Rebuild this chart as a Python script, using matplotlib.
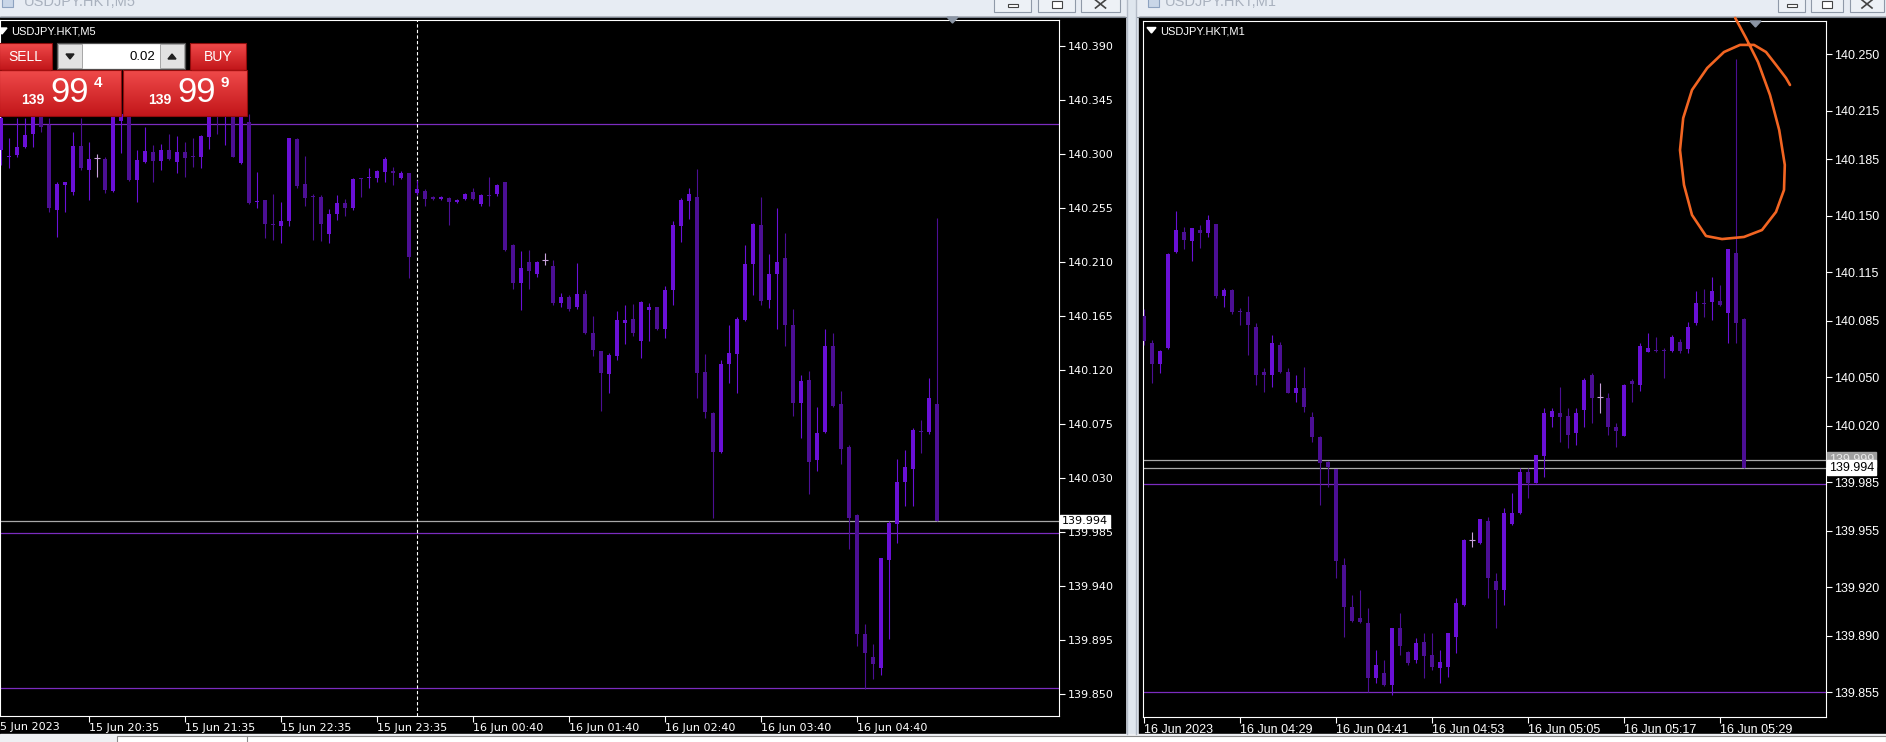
import numpy as np
import matplotlib
matplotlib.use("Agg")
import matplotlib.pyplot as plt
import matplotlib.transforms as mtransforms
from matplotlib.patches import Rectangle, Polygon
from matplotlib.colors import LinearSegmentedColormap

plt.rcParams['font.family'] = ['DejaVu Sans']

# ---------------- data: USDJPY.HKT M5, 15 Jun 19:40 .. 16 Jun 05:30 ----------------
m5_open = [140.3034, 140.2978, 140.2992, 140.3061, 140.3164, 140.3350, 140.3242, 140.2534, 140.2742, 140.2686,
           140.3067, 140.2867, 140.2964, 140.2959, 140.2692, 140.3275, 140.3330, 140.2784, 140.2936, 140.3014,
           140.2942, 140.3031, 140.2936, 140.3020, 140.2978, 140.2978, 140.3145, 140.3400, 140.3380, 140.3420,
           140.2922, 140.3270, 140.2598, 140.2617, 140.2412, 140.2403, 140.2442, 140.3125, 140.2748, 140.2648,
           140.2639, 140.2331, 140.2497, 140.2589, 140.2548, 140.2795, 140.2797, 140.2803, 140.2847, 140.2859,
           140.2797, 140.2839, 140.2672, 140.2695, 140.2645, 140.2625, 140.2636, 140.2603, 140.2625, 140.2686,
           140.2585, 140.2659, 140.2666, 140.2763, 140.2244, 140.1929, 140.2104, 140.2000, 140.2114, 140.2065,
           140.1757, 140.1806, 140.1724, 140.1832, 140.1507, 140.1357, 140.1163, 140.1318, 140.1595, 140.1627,
           140.1442, 140.1702, 140.1724, 140.1546, 140.1864, 140.2397, 140.2611, 140.2643, 140.1182, 140.0838,
           140.0513, 140.1254, 140.1335, 140.1617, 140.2082, 140.2406, 140.1780, 140.2000, 140.2130, 140.1572,
           140.0929, 140.1117, 140.0448, 140.0685, 140.1400, 140.0913, 140.0556, 139.9994, 139.8997, 139.8812,
           139.8721, 139.9614, 139.9916, 140.0263, 140.0377, 140.0688, 140.0685, 140.0913]
m5_high = [140.3450, 140.3131, 140.3303, 140.3303, 140.3450, 140.3450, 140.3300, 140.2764, 140.2770, 140.3181,
           140.3303, 140.3103, 140.2998, 140.2978, 140.3450, 140.3450, 140.3450, 140.3034, 140.3228, 140.3075,
           140.3081, 140.3164, 140.3153, 140.3103, 140.3131, 140.3159, 140.3450, 140.3500, 140.3500, 140.3500,
           140.3480, 140.3331, 140.2847, 140.2620, 140.2664, 140.2598, 140.3135, 140.3131, 140.2984, 140.2670,
           140.2658, 140.2542, 140.2658, 140.2625, 140.2803, 140.2803, 140.2886, 140.2867, 140.2978, 140.2895,
           140.2859, 140.2845, 140.2784, 140.2706, 140.2650, 140.2650, 140.2645, 140.2625, 140.2675, 140.2720,
           140.2670, 140.2806, 140.2754, 140.2766, 140.2250, 140.2189, 140.2202, 140.2110, 140.2179, 140.2114,
           140.1838, 140.1822, 140.2091, 140.1871, 140.1650, 140.1360, 140.1345, 140.1692, 140.1741, 140.1747,
           140.1773, 140.1757, 140.1727, 140.1897, 140.2439, 140.2634, 140.2715, 140.2877, 140.1335, 140.0850,
           140.1280, 140.1572, 140.1643, 140.2244, 140.2429, 140.2643, 140.2163, 140.2552, 140.2341, 140.1708,
           140.1156, 140.1189, 140.0896, 140.1546, 140.1507, 140.1026, 140.0572, 140.0004, 139.9085, 139.8916,
           139.9635, 139.9939, 140.0458, 140.0533, 140.0718, 140.0783, 140.1130, 140.2471]
m5_low = [140.2909, 140.2886, 140.2978, 140.3048, 140.3061, 140.3186, 140.2520, 140.2311, 140.2520, 140.2658,
          140.2867, 140.2617, 140.2811, 140.2672, 140.2680, 140.3006, 140.2775, 140.2603, 140.2922, 140.2764,
          140.2867, 140.2950, 140.2839, 140.2811, 140.2895, 140.2886, 140.3042, 140.3164, 140.3075, 140.2975,
          140.2915, 140.2585, 140.2553, 140.2297, 140.2284, 140.2256, 140.2403, 140.2720, 140.2570, 140.2284,
          140.2275, 140.2256, 140.2450, 140.2486, 140.2534, 140.2645, 140.2720, 140.2764, 140.2764, 140.2742,
          140.2790, 140.1970, 140.2658, 140.2570, 140.2620, 140.2620, 140.2409, 140.2589, 140.2620, 140.2620,
          140.2569, 140.2569, 140.2650, 140.2195, 140.1877, 140.1702, 140.1877, 140.1974, 140.2072, 140.1741,
          140.1724, 140.1692, 140.1708, 140.1497, 140.1318, 140.0857, 140.1010, 140.1286, 140.1416, 140.1487,
          140.1302, 140.1442, 140.1530, 140.1465, 140.1741, 140.2267, 140.2455, 140.0968, 140.0799, 139.9971,
          140.0507, 140.1091, 140.1010, 140.1611, 140.1822, 140.1741, 140.1715, 140.1546, 140.1400, 140.0815,
          140.0637, 140.0166, 140.0361, 140.0676, 140.0896, 140.0416, 139.9711, 139.8899, 139.8542, 139.8624,
          139.8656, 139.8955, 139.9760, 140.0068, 140.0068, 140.0507, 140.0669, 139.9940]
m5_close = [140.3298, 140.2982, 140.3061, 140.3159, 140.3330, 140.3228, 140.2548, 140.2748, 140.2764, 140.3067,
            140.2886, 140.2959, 140.2964, 140.2700, 140.3330, 140.3330, 140.2784, 140.2950, 140.3025, 140.2942,
            140.3034, 140.2959, 140.3014, 140.2970, 140.2975, 140.3150, 140.3360, 140.3360, 140.3420, 140.2978,
            140.3360, 140.2589, 140.2609, 140.2420, 140.2406, 140.2442, 140.3131, 140.2736, 140.2636, 140.2642,
            140.2414, 140.2500, 140.2589, 140.2548, 140.2792, 140.2790, 140.2811, 140.2859, 140.2959, 140.2839,
            140.2839, 140.2145, 140.2706, 140.2625, 140.2625, 140.2639, 140.2603, 140.2617, 140.2670, 140.2625,
            140.2656, 140.2653, 140.2741, 140.2202, 140.1929, 140.2049, 140.2026, 140.2104, 140.2114, 140.1757,
            140.1806, 140.1708, 140.1832, 140.1507, 140.1367, 140.1172, 140.1325, 140.1617, 140.1621, 140.1507,
            140.1767, 140.1724, 140.1539, 140.1864, 140.2406, 140.2617, 140.2666, 140.1172, 140.0848, 140.0513,
            140.1254, 140.1345, 140.1627, 140.2082, 140.2416, 140.1773, 140.2000, 140.2098, 140.1572, 140.0929,
            140.1107, 140.0435, 140.0676, 140.1400, 140.0903, 140.0546, 139.9971, 139.8997, 139.8844, 139.8747,
            139.9630, 139.9922, 140.0263, 140.0393, 140.0702, 140.0682, 140.0968, 139.9940]

m5_tick_idx = [11, 23, 35, 47, 59, 71, 83, 95, 107]
m5_tick_lbl = ['15 Jun 20:35', '15 Jun 21:35', '15 Jun 22:35', '15 Jun 23:35', '16 Jun 00:40',
               '16 Jun 01:40', '16 Jun 02:40', '16 Jun 03:40', '16 Jun 04:40']
m5_first_lbl = '15 Jun 2023'
m5_levels = [140.390, 140.345, 140.300, 140.255, 140.210, 140.165, 140.120, 140.075, 140.030,
             139.985, 139.940, 139.895, 139.850]
m5_separator = 52

# ---------------- data: USDJPY.HKT M1, 16 Jun 04:17 .. 05:32 ----------------
m1_open = [140.0880, 140.0711, 140.0583, 140.0680, 140.1278, 140.1402, 140.1346, 140.1412, 140.1392, 140.1449,
           140.1004, 140.1041, 140.0909, 140.0907, 140.0814, 140.0535, 140.0515, 140.0700, 140.0535, 140.0401,
           140.0432, 140.0252, 140.0129, 139.9978, 139.9930, 139.9338, 139.9076, 139.9008, 139.8977, 139.8636,
           139.8671, 139.8595, 139.8946, 139.8801, 139.8750, 139.8863, 139.8781, 139.8698, 139.8708, 139.8894,
           139.9090, 139.9493, 139.9476, 139.9612, 139.9241, 139.9183, 139.9592, 139.9658, 139.9916, 139.9848,
           140.0013, 140.0252, 140.0277, 140.0261, 140.0157, 140.0298, 140.0515, 140.0380, 140.0370, 140.0195,
           140.0137, 140.0479, 140.0453, 140.0659, 140.0667, 140.0667, 140.0665, 140.0721, 140.0673, 140.0839,
           140.0960, 140.0969, 140.0975, 140.0900, 140.1268, 140.0859]
m1_high = [140.0920, 140.0731, 140.0670, 140.1270, 140.1532, 140.1429, 140.1426, 140.1443, 140.1505, 140.1452,
           140.1051, 140.1045, 140.0927, 140.1004, 140.0839, 140.0556, 140.0762, 140.0721, 140.0556, 140.0515,
           140.0566, 140.0287, 140.0135, 139.9980, 139.9935, 139.9379, 139.9152, 139.9183, 139.9070, 139.8812,
           139.8750, 139.8950, 139.9039, 139.8806, 139.8884, 139.8915, 139.8915, 139.8812, 139.8920, 139.9132,
           139.9500, 139.9544, 139.9625, 139.9637, 139.9286, 139.9689, 139.9786, 139.9937, 139.9937, 140.0021,
           140.0308, 140.0308, 140.0442, 140.0308, 140.0308, 140.0494, 140.0525, 140.0467, 140.0401, 140.0215,
           140.0456, 140.0488, 140.0711, 140.0777, 140.0752, 140.0680, 140.0762, 140.0735, 140.0845, 140.1037,
           140.1045, 140.1119, 140.1072, 140.1295, 140.2470, 140.0865]
m1_low = [140.0700, 140.0467, 140.0529, 140.0675, 140.1268, 140.1293, 140.1222, 140.1299, 140.1371, 140.0989,
          140.0938, 140.0892, 140.0824, 140.0638, 140.0453, 140.0411, 140.0442, 140.0529, 140.0401, 140.0349,
          140.0287, 140.0102, 139.9710, 139.9823, 139.9255, 139.8894, 139.8987, 139.8977, 139.8554, 139.8605,
          139.8589, 139.8533, 139.8781, 139.8719, 139.8729, 139.8636, 139.8688, 139.8605, 139.8647, 139.8791,
          139.9085, 139.9447, 139.9468, 139.9132, 139.8946, 139.9090, 139.9586, 139.9654, 139.9751, 139.9844,
          139.9885, 140.0195, 140.0102, 140.0060, 140.0081, 140.0195, 140.0215, 140.0281, 140.0143, 140.0067,
          140.0134, 140.0349, 140.0417, 140.0657, 140.0659, 140.0494, 140.0659, 140.0649, 140.0653, 140.0824,
          140.0872, 140.0855, 140.0942, 140.0715, 140.0715, 139.9937]
m1_close = [140.0727, 140.0583, 140.0665, 140.1264, 140.1412, 140.1350, 140.1423, 140.1392, 140.1474, 140.1004,
            140.1041, 140.0907, 140.0905, 140.0824, 140.0515, 140.0515, 140.0711, 140.0535, 140.0405, 140.0432,
            140.0318, 140.0129, 139.9968, 139.9947, 139.9365, 139.9076, 139.8993, 139.8987, 139.8636, 139.8719,
            139.8595, 139.8946, 139.8836, 139.8733, 139.8857, 139.8775, 139.8708, 139.8739, 139.8915, 139.9105,
            139.9493, 139.9493, 139.9621, 139.9255, 139.9183, 139.9662, 139.9658, 139.9916, 139.9848, 140.0019,
            140.0281, 140.0294, 140.0252, 140.0143, 140.0281, 140.0484, 140.0370, 140.0380, 140.0195, 140.0170,
            140.0453, 140.0459, 140.0694, 140.0680, 140.0663, 140.0663, 140.0748, 140.0665, 140.0814, 140.0958,
            140.0956, 140.1037, 140.0948, 140.1293, 140.0839, 139.9940]

m1_tick_idx = [0, 12, 24, 36, 48, 60, 72]
m1_tick_lbl = ['16 Jun 2023', '16 Jun 04:29', '16 Jun 04:41', '16 Jun 04:53', '16 Jun 05:05',
               '16 Jun 05:17', '16 Jun 05:29']
m1_levels = [140.250, 140.215, 140.185, 140.150, 140.115, 140.085, 140.050, 140.020,
             139.985, 139.955, 139.920, 139.890, 139.855]

level_lines = [140.325, 139.984, 139.855]
bid = 139.994
ask = 139.999

# hand drawn loop on the M1 chart (bar index, price)
loop_x = [73.9, 75.25, 76.75, 78.25, 79.4, 80.1, 80.0, 79.0, 77.25, 75.0, 72.25, 70.25, 68.5,
          67.5, 67.0, 67.4, 68.5, 70.4, 72.5, 74.5, 76.25, 77.75, 79.1, 80.25, 80.75]
loop_y = [140.2725, 140.2601, 140.2452, 140.2248, 140.2031, 140.1815, 140.1660, 140.1524, 140.1412,
          140.1369, 140.1356, 140.1375, 140.1505, 140.1691, 140.1907, 140.2105, 140.2279, 140.2415,
          140.2514, 140.2558, 140.2558, 140.2514, 140.2428, 140.2353, 140.2310]

BULL = '#6a10d6'
BEAR = '#4c0f94'
DOJI = '#c9a3dc'
LEVEL = '#7b2cbf'

W, H = 1886, 742
fig = plt.figure(figsize=(W / 100, H / 100), dpi=100)


def frac(x0, y0, x1, y1):
    return [x0 / W, 1 - y1 / H, (x1 - x0) / W, (y1 - y0) / H]


# window chrome
bg = fig.add_axes([0, 0, 1, 1], zorder=0)
bg.set_xlim(0, W); bg.set_ylim(H, 0); bg.axis('off')
bg.add_patch(Rectangle((0, 0), W, H, color='#dfe6ee'))
bg.add_patch(Rectangle((0, 0), 1126, 16, color='#e7ecf3'))
bg.add_patch(Rectangle((1137, 0), W - 1137, 16, color='#e7ecf3'))
bg.add_patch(Rectangle((0, 17), 1125, 717, color='black'))
bg.add_patch(Rectangle((1139, 17), W - 1139, 717, color='black'))
bg.plot([0, 1126], [16.5, 16.5], color='#7d8590', lw=0.8)
bg.plot([1137, W], [16.5, 16.5], color='#7d8590', lw=0.8)
bg.plot([1127, 1127], [0, 734], color='#b4bcc8', lw=1)
bg.plot([1136, 1136], [0, 734], color='#b4bcc8', lw=1)
bg.add_patch(Rectangle((0, 734), W, 8, color='#eef0f3'))
bg.add_patch(Rectangle((117, 736), W - 117, 8, facecolor='white', edgecolor='#8a8a8a', lw=0.8))
bg.plot([247, 247], [736, 742], color='#8a8a8a', lw=0.8)
bg.text(24, 2.5, 'USDJPY.HKT,M5', color='#a9b1be', fontsize=10.5, va='center', fontfamily='Liberation Sans')
bg.text(1165, 2.5, 'USDJPY.HKT,M1', color='#a9b1be', fontsize=10.5, va='center', fontfamily='Liberation Sans')
bg.add_patch(Rectangle((2, -2), 11, 9, facecolor='#c9d6e8', edgecolor='#8da2c0', lw=0.8))
bg.add_patch(Rectangle((1148, -2), 11, 9, facecolor='#c9d6e8', edgecolor='#8da2c0', lw=0.8))


def win_buttons(xs):
    for k, (a, b) in enumerate(xs):
        bg.add_patch(Rectangle((a, -4), b - a, 16, facecolor='#edf1f6', edgecolor='#8f99a8', lw=0.8))
        cx = (a + b) / 2
        if k == 0:
            bg.add_patch(Rectangle((cx - 5, 4), 10, 3, facecolor='white', edgecolor='#444', lw=0.8))
        elif k == 1:
            bg.add_patch(Rectangle((cx - 5, 1), 10, 7, facecolor='white', edgecolor='#444', lw=0.8))
        else:
            bg.plot([cx - 5, cx + 5], [0, 8], color='#444', lw=1.2)
            bg.plot([cx - 5, cx + 5], [8, 0], color='#444', lw=1.2)


win_buttons([(994, 1031), (1038, 1075), (1081, 1120)])
win_buttons([(1778, 1805), (1811, 1843), (1850, 1884)])


def candles(ax, o, h, l, c, min_body):
    o, h, l, c = map(np.asarray, (o, h, l, c))
    x = np.arange(len(o))
    col = np.where(c > o, BULL, np.where(c < o, BEAR, DOJI))
    ax.vlines(x, l, h, colors=col, lw=0.8, zorder=3)
    body = c != o
    ax.bar(x[body], np.maximum(np.abs(c - o), min_body)[body], bottom=np.minimum(o, c)[body],
           width=0.62, color=col[body], lw=0, zorder=4)
    ax.hlines(o[~body], x[~body] - 0.32, x[~body] + 0.32, colors=DOJI, lw=0.8, zorder=4)


def style(ax, levels, idx, lbls, fam, fs):
    ax.set_facecolor('black')
    for s in ax.spines.values():
        s.set_color('white'); s.set_linewidth(0.8)
    ax.yaxis.tick_right()
    ax.set_yticks(levels)
    ax.set_yticklabels([f'{v:.3f}' for v in levels], fontfamily=fam, fontsize=fs, color='white')
    ax.set_xticks(idx)
    ax.set_xticklabels(lbls, fontfamily=fam, fontsize=fs, color='white', ha='left')
    ax.tick_params(axis='both', colors='white', length=4, width=0.8)
    ax.tick_params(axis='y', pad=2)
    ax.tick_params(axis='x', pad=1.2)


def price_box(ax, val, face, txt, px_w):
    tr = mtransforms.blended_transform_factory(ax.transAxes, ax.transData)
    ax.text(1 + 3 / px_w, val, f'{val:.3f}', transform=tr, ha='left', va='center', color=txt,
            fontsize=8 if px_w > 1000 else 9,
            fontfamily='DejaVu Sans' if px_w > 1000 else 'Liberation Sans',
            bbox=dict(facecolor=face, edgecolor=face, pad=1.2), clip_on=False, zorder=20)


# ---- left chart (M5)
ax1 = fig.add_axes(frac(0, 20, 1059, 716), zorder=1)
candles(ax1, m5_open, m5_high, m5_low, m5_close, 1 / 1200)
for v in level_lines:
    ax1.axhline(v, color=LEVEL, lw=0.9, zorder=2)
ax1.axhline(bid, color='#a8a8a8', lw=0.9, zorder=2)
ax1.axvline(m5_separator, color='white', lw=0.8, dashes=(3, 2), zorder=2)
ax1.set_xlim(-0.125, 132.25)
ax1.set_ylim(139.8317, 140.4117)
style(ax1, m5_levels, m5_tick_idx, m5_tick_lbl, 'DejaVu Sans', 8)
ax1.text(-1, -0.008, m5_first_lbl, transform=mtransforms.blended_transform_factory(ax1.transData, ax1.transAxes),
         ha='left', va='top', color='white', fontsize=8, clip_on=False)
price_box(ax1, bid, 'white', 'black', 1059)

# ---- right chart (M1)
ax2 = fig.add_axes(frac(1143, 21, 1826, 717), zorder=1)
candles(ax2, m1_open, m1_high, m1_low, m1_close, 1 / 1615)
for v in level_lines:
    ax2.axhline(v, color=LEVEL, lw=0.9, zorder=2)
ax2.axhline(ask, color='#a8a8a8', lw=0.9, zorder=2)
ax2.axhline(bid, color='#a8a8a8', lw=0.9, zorder=2)
ax2.set_xlim(-0.125, 85.25)
ax2.set_ylim(139.8397, 140.2706)
style(ax2, m1_levels, m1_tick_idx, m1_tick_lbl, 'Liberation Sans', 9)
price_box(ax2, ask, '#a0a0a0', '#e8e8e8', 683)
price_box(ax2, bid, 'white', 'black', 683)
ax2.plot(loop_x, loop_y, color='#f26522', lw=1.9, solid_capstyle='round', solid_joinstyle='round',
         clip_on=False, zorder=30)

# ---- overlay: chart captions and one-click trading panel
ov = fig.add_axes([0, 0, 1, 1], zorder=5)
ov.axis('off')
ov.add_patch(Polygon([(-3, 28), (7, 28), (2, 34)], color='white'))
ov.text(11, 31, 'USDJPY.HKT,M5', color='white', fontsize=8, fontfamily='Liberation Sans', va='center')
ov.add_patch(Polygon([(1147, 27.5), (1156, 27.5), (1151.5, 33)], color='white'))
ov.text(1160, 31, 'USDJPY.HKT,M1', color='white', fontsize=8, fontfamily='Liberation Sans', va='center')
ov.add_patch(Polygon([(947, 17), (958, 17), (952.5, 23)], color='#8c96a5'))
ov.add_patch(Polygon([(1750, 21), (1761, 21), (1755.5, 27)], color='#8c96a5'))

red = LinearSegmentedColormap.from_list('red', ['#f04a4a', '#c2161a'])
grad = np.linspace(0, 1, 64).reshape(-1, 1)


def red_box(x0, y0, x1, y1):
    ov.imshow(grad, extent=(x0, x1, y1, y0), cmap=red, aspect='auto', interpolation='bilinear', zorder=2)
    ov.add_patch(Rectangle((x0, y0), x1 - x0, y1 - y0, fill=False, edgecolor='#8e0c0c', lw=0.8, zorder=3))


red_box(-1, 43, 52, 70)
red_box(190, 43, 246, 70)
red_box(-1, 70, 121, 116)
red_box(123, 70, 247, 116)
ov.plot([2, 50], [69.5, 69.5], color='#a51010', lw=0.8, zorder=4)
ov.plot([192, 243], [69.5, 69.5], color='#a51010', lw=0.8, zorder=4)
ov.text(25, 57, 'SELL', color='white', fontsize=10, fontfamily='Liberation Sans', ha='center', va='center', zorder=5)
ov.text(218, 57, 'BUY', color='white', fontsize=10, fontfamily='Liberation Sans', ha='center', va='center', zorder=5)
ov.add_patch(Rectangle((57, 43), 128, 26, facecolor='white', edgecolor='#505050', lw=0.9, zorder=2))
ov.add_patch(Rectangle((58, 44), 24, 24, facecolor='#e2e2e2', edgecolor='#9a9a9a', lw=0.6, zorder=3))
ov.add_patch(Rectangle((160, 44), 24, 24, facecolor='#e2e2e2', edgecolor='#9a9a9a', lw=0.6, zorder=3))
ov.add_patch(Polygon([(66, 54), (74, 54), (70, 59)], color='#202020', zorder=4))
ov.add_patch(Polygon([(168, 59), (176, 59), (172, 54)], color='#202020', zorder=4))
ov.text(155, 57, '0.02', color='black', fontsize=9.5, fontfamily='Liberation Sans', ha='right', va='center', zorder=5)
for cx, big, small in [(0, '99', '4'), (127, '99', '9')]:
    ov.text(cx + 33, 100, '139', color='white', fontsize=10, fontweight='bold', fontfamily='Liberation Sans',
            ha='center', va='center', zorder=5)
    ov.text(cx + 70, 92, big, color='white', fontsize=25, fontfamily='Liberation Sans',
            ha='center', va='center', zorder=5)
    ov.text(cx + 98, 83, small, color='white', fontsize=11, fontweight='bold', fontfamily='Liberation Sans',
            ha='center', va='center', zorder=5)
ov.set_xlim(0, W)
ov.set_ylim(H, 0)

fig.savefig('out.png', dpi=100, facecolor='#dfe6ee')
